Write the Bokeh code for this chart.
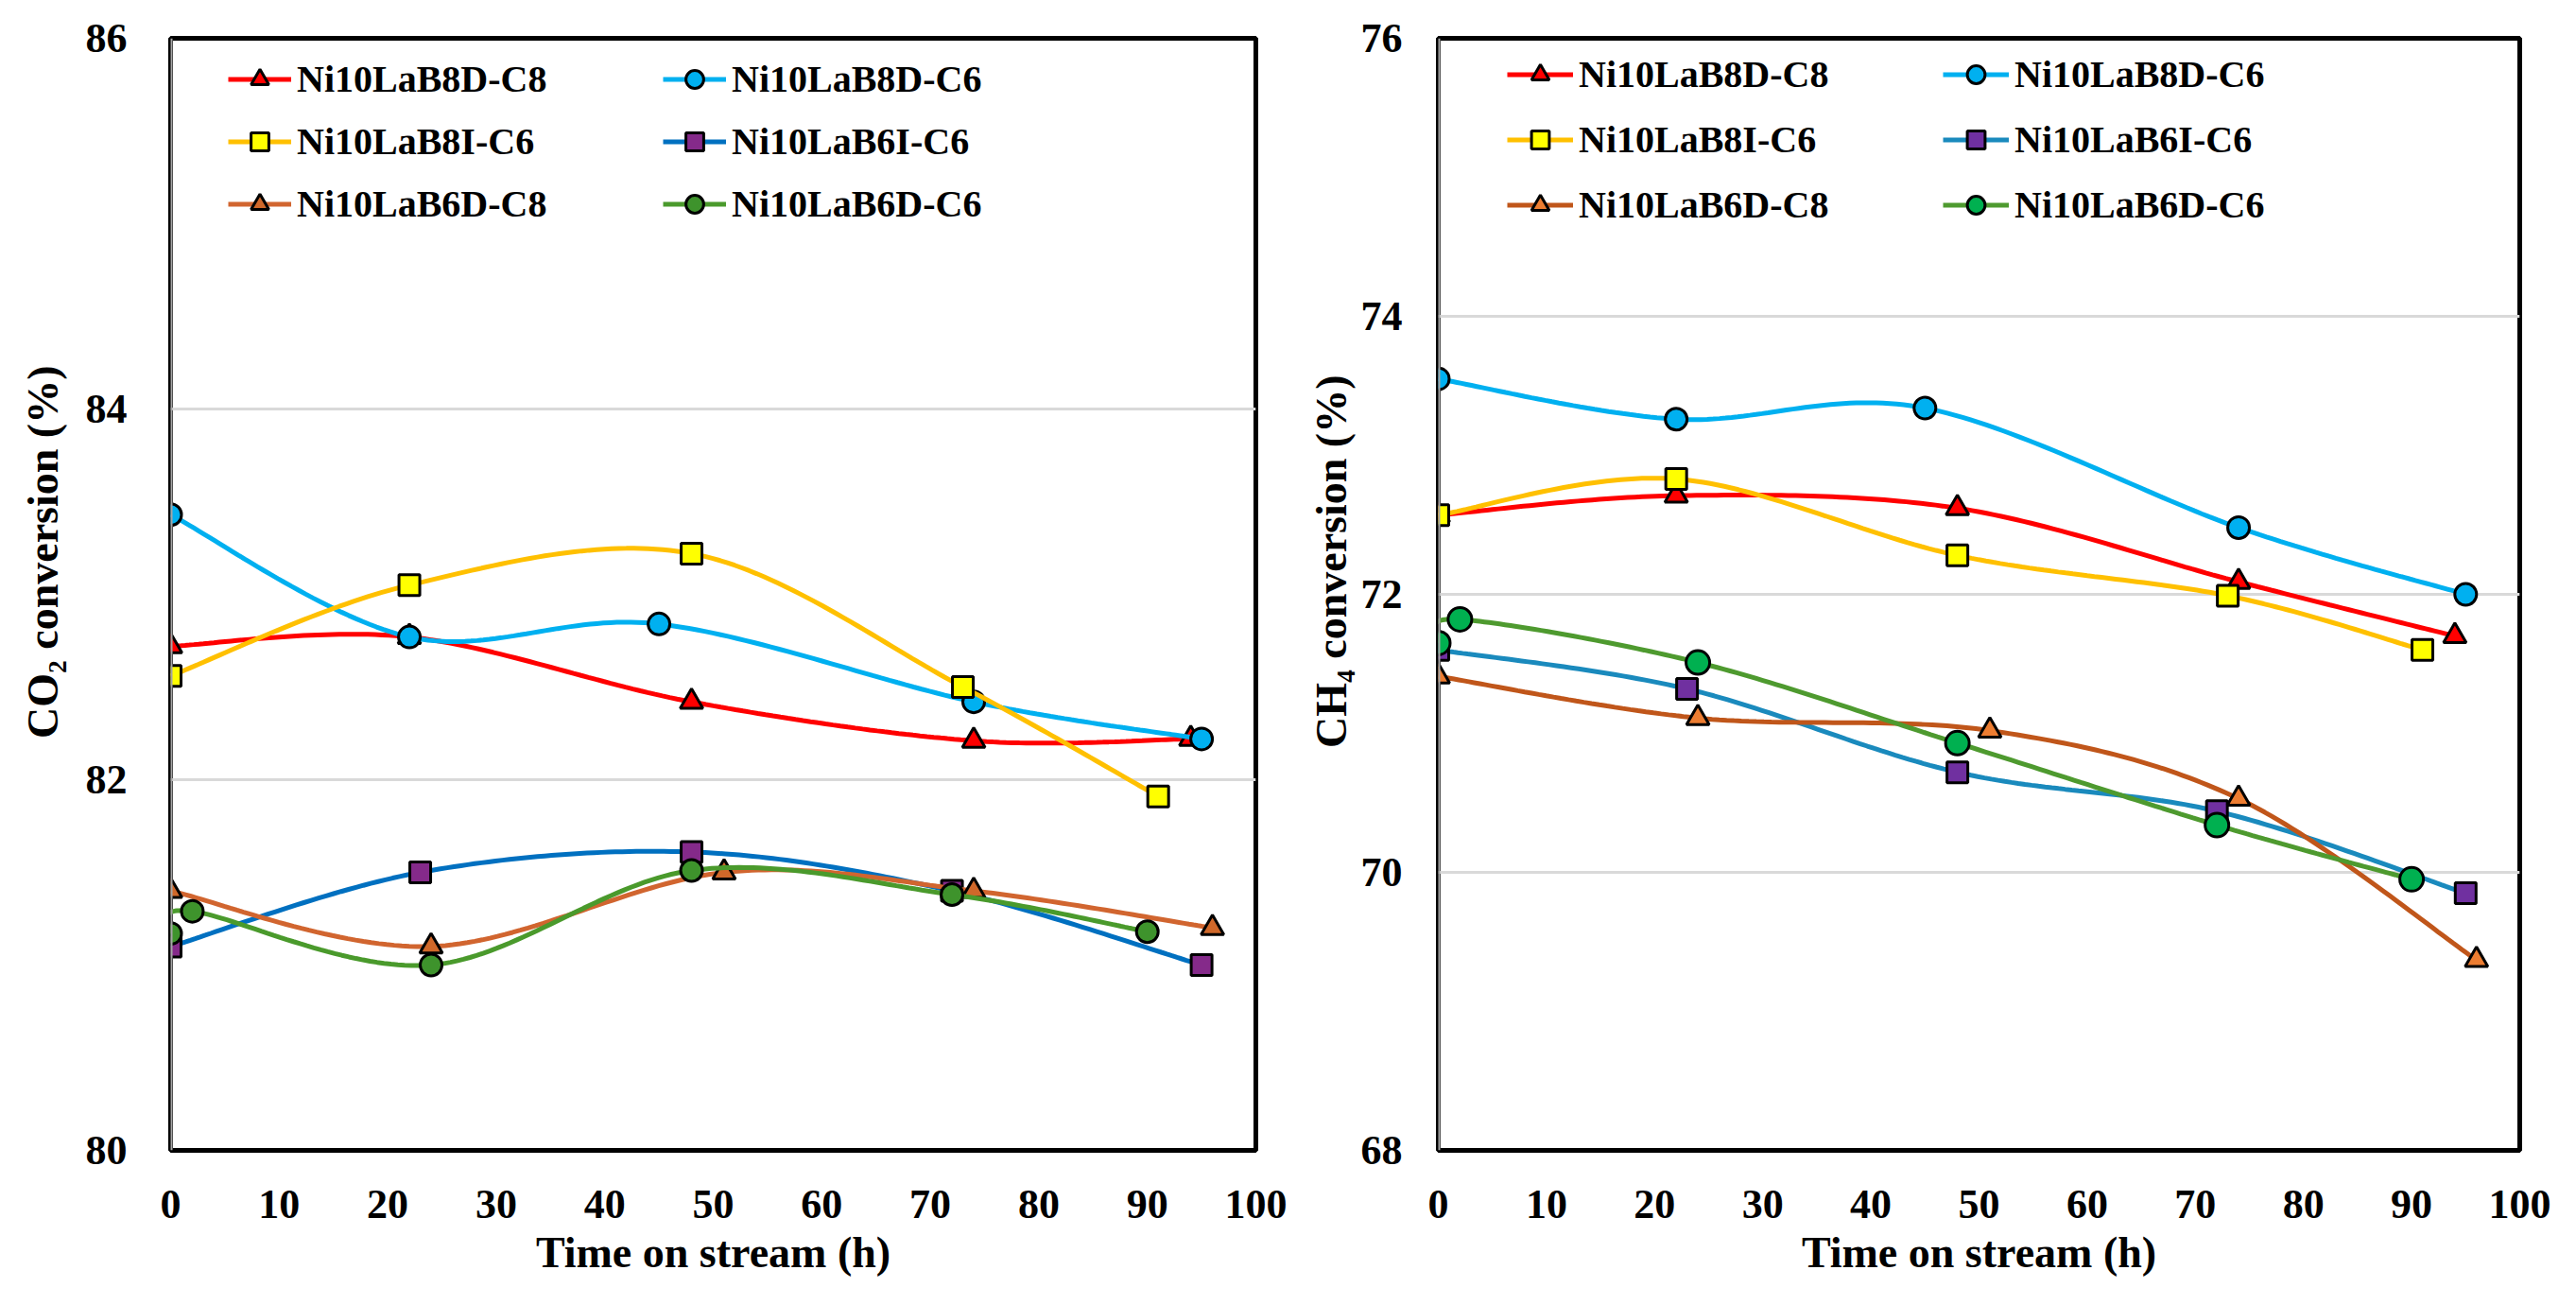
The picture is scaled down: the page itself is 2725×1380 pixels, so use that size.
import numpy as np
from bokeh.plotting import figure
from bokeh.layouts import row
from bokeh.models import Range1d, FixedTicker, Legend, LegendItem, Span, Title
from bokeh.embed import file_html
from bokeh.resources import INLINE

# ---------------- data ----------------
series_names = ["Ni10LaB8D-C8", "Ni10LaB8D-C6", "Ni10LaB8I-C6",
                "Ni10LaB6I-C6", "Ni10LaB6D-C8", "Ni10LaB6D-C6"]

# CO2 conversion (%)
co2_t_b8d_c8 = [0, 22, 48, 74, 94]
co2_b8d_c8 = [82.72, 82.77, 82.42, 82.21, 82.22]
co2_t_b8d_c6 = [0, 22, 45, 74, 95]
co2_b8d_c6 = [83.43, 82.77, 82.84, 82.42, 82.22]
co2_t_b8i_c6 = [0, 22, 48, 73, 91]
co2_b8i_c6 = [82.56, 83.05, 83.22, 82.50, 81.91]
co2_t_b6i_c6 = [0, 23, 48, 72, 95]
co2_b6i_c6 = [81.10, 81.50, 81.61, 81.40, 81.00]
co2_t_b6d_c8 = [0, 24, 51, 74, 96]
co2_b6d_c8 = [81.40, 81.10, 81.50, 81.40, 81.20]
co2_t_b6d_c6 = [0, 2, 24, 48, 72, 90]
co2_b6d_c6 = [81.17, 81.29, 81.00, 81.51, 81.38, 81.18]

# CH4 conversion (%)
ch4_t_b8d_c8 = [0, 22, 48, 74, 94]
ch4_b8d_c8 = [72.57, 72.71, 72.62, 72.09, 71.70]
ch4_t_b8d_c6 = [0, 22, 45, 74, 95]
ch4_b8d_c6 = [73.55, 73.26, 73.34, 72.48, 72.00]
ch4_t_b8i_c6 = [0, 22, 48, 73, 91]
ch4_b8i_c6 = [72.57, 72.83, 72.28, 71.99, 71.60]
ch4_t_b6i_c6 = [0, 23, 48, 72, 95]
ch4_b6i_c6 = [71.60, 71.32, 70.72, 70.44, 69.85]
ch4_t_b6d_c8 = [0, 24, 51, 74, 96]
ch4_b6d_c8 = [71.41, 71.11, 71.02, 70.53, 69.37]
ch4_t_b6d_c6 = [0, 2, 24, 48, 72, 90]
ch4_b6d_c6 = [71.65, 71.82, 71.51, 70.93, 70.34, 69.95]

x_ticks = [0, 10, 20, 30, 40, 50, 60, 70, 80, 90, 100]
co2_ticks = [80, 82, 84, 86]
ch4_ticks = [68, 70, 72, 74, 76]

FONT = "Liberation Serif"
ITEM_H = 47


def smooth(xs, ys, n=40):
    """Excel-like smoothed line (Catmull-Rom / cubic Bezier) through the points."""
    P = np.column_stack([np.asarray(xs, float), np.asarray(ys, float)])
    m = len(P)
    out = [P[0]]
    for i in range(m - 1):
        p0 = P[i - 1] if i > 0 else P[i]
        p1 = P[i]
        p2 = P[i + 1]
        p3 = P[i + 2] if i + 2 < m else P[i + 1]
        c1 = p1 + (p2 - p0) / 6.0
        c2 = p2 - (p3 - p1) / 6.0
        t = np.linspace(0, 1, n)[1:, None]
        b = ((1 - t) ** 3) * p1 + 3 * ((1 - t) ** 2) * t * c1 + 3 * (1 - t) * t ** 2 * c2 + t ** 3 * p2
        out.extend(list(b))
    out = np.array(out)
    return out[:, 0], out[:, 1]


def make_plot(data, styles, yr, yticks, ylabel, W, H, bl, br, bt, bb,
              leg_dx, leg_dy, leg_glyph_w, leg_label_w, leg_spacing,
              ytitle_standoff, ytitle_offset, ytick_standoff):
    p = figure(width=W, height=H, output_backend="svg", toolbar_location=None,
               x_range=Range1d(0, 100), y_range=Range1d(*yr),
               min_border_left=bl, min_border_right=br, min_border_top=bt,
               min_border_bottom=bb)
    p.background_fill_color = "white"
    p.border_fill_color = "white"
    p.outline_line_color = "black"
    p.outline_line_width = 5

    p.xgrid.visible = False
    p.ygrid.grid_line_color = "#D9D9D9"
    p.ygrid.grid_line_width = 3

    for ax in (p.xaxis[0], p.yaxis[0]):
        ax.major_tick_line_color = None
        ax.minor_tick_line_color = None
        ax.axis_line_color = None
        ax.major_label_text_font = FONT
        ax.major_label_text_font_style = "bold"
        ax.major_label_text_font_size = "44px"
        ax.major_label_text_color = "black"
        ax.axis_label_text_font = FONT
        ax.axis_label_text_font_style = "bold"
        ax.axis_label_text_font_size = "46px"
        ax.axis_label_text_color = "black"

    p.xaxis.ticker = FixedTicker(ticks=x_ticks)
    p.yaxis.ticker = FixedTicker(ticks=yticks)
    p.xaxis.axis_label = "Time on stream (h)"
    p.xaxis.major_label_standoff = 36
    p.yaxis.major_label_standoff = ytick_standoff
    p.xaxis.axis_label_standoff = 8

    # y-axis title (placed a little above the frame centre, as in the reference)
    p.add_layout(Title(text=ylabel, align="right", offset=ytitle_offset,
                       standoff=ytitle_standoff, text_font=FONT,
                       text_font_style="bold", text_font_size="46px",
                       text_color="black"), "left")

    # gray left spine
    p.add_layout(Span(location=0, dimension="height", line_color="#A6A6A6",
                      line_width=4, level="overlay"))

    items = []
    for (name, (xs, ys)), (lc, mc, mk, ms) in zip(zip(series_names, data), styles):
        sx, sy = smooth(xs, ys)
        lr = p.line(sx, sy, line_color=lc, line_width=5)
        sr = p.scatter(xs, ys, marker=mk, size=ms, fill_color=mc,
                       line_color="black", line_width=3)
        items.append(LegendItem(label=name, renderers=[lr, sr]))

    # legend fills column by column: reorder so that rows read like the reference
    order = [0, 2, 4, 1, 3, 5]
    items = [items[i] for i in order]

    frame_h = H - bt - bb
    leg_h = 3 * ITEM_H + 2 * leg_spacing
    leg = Legend(items=items, ncols=2, location=(leg_dx, frame_h - leg_dy - leg_h),
                 padding=0, margin=0, border_line_color=None,
                 background_fill_alpha=0,
                 glyph_width=leg_glyph_w, glyph_height=ITEM_H, label_height=ITEM_H,
                 label_width=leg_label_w, label_standoff=6, spacing=leg_spacing,
                 label_text_font=FONT, label_text_font_style="bold",
                 label_text_font_size="40px", label_text_color="black")
    p.add_layout(leg, "center")
    return p


styles_left = [
    ("#FF0000", "#FF0000", "triangle", 24),
    ("#00B0F0", "#00B0F0", "circle", 23),
    ("#FFC000", "#FFFF00", "square", 22),
    ("#0070C0", "#852A8A", "square", 22),
    ("#D1652F", "#D0682A", "triangle", 24),
    ("#4A9A2C", "#3E932C", "circle", 23),
]
styles_right = [
    ("#FF0000", "#FF0000", "triangle", 24),
    ("#00B0F0", "#00B0F0", "circle", 23),
    ("#FFC000", "#FFFF00", "square", 22),
    ("#1A8ABD", "#7030A0", "square", 22),
    ("#C0561A", "#ED7D31", "triangle", 24),
    ("#4E9A2F", "#00B050", "circle", 25),
]

co2_data = [(co2_t_b8d_c8, co2_b8d_c8), (co2_t_b8d_c6, co2_b8d_c6),
            (co2_t_b8i_c6, co2_b8i_c6), (co2_t_b6i_c6, co2_b6i_c6),
            (co2_t_b6d_c8, co2_b6d_c8), (co2_t_b6d_c6, co2_b6d_c6)]
ch4_data = [(ch4_t_b8d_c8, ch4_b8d_c8), (ch4_t_b8d_c6, ch4_b8d_c6),
            (ch4_t_b8i_c6, ch4_b8i_c6), (ch4_t_b6i_c6, ch4_b6i_c6),
            (ch4_t_b6d_c8, ch4_b6d_c8), (ch4_t_b6d_c6, ch4_b6d_c6)]

p1 = make_plot(co2_data, styles_left, (80, 86), co2_ticks, "CO\u2082 conversion (%)",
               W=1368, H=1364, bl=175, br=40, bt=40, bb=148,
               leg_dx=61, leg_dy=20, leg_glyph_w=67, leg_label_w=368,
               leg_spacing=19, ytitle_standoff=34, ytitle_offset=346,
               ytick_standoff=40)
p2 = make_plot(ch4_data, styles_right, (68, 76), ch4_ticks, "CH\u2084 conversion (%)",
               W=1341, H=1364, bl=153, br=44, bt=32, bb=148,
               leg_dx=73, leg_dy=23, leg_glyph_w=70, leg_label_w=363,
               leg_spacing=22, ytitle_standoff=5, ytitle_offset=356,
               ytick_standoff=32)

layout = row(p1, p2)
open("out.html", "w").write(file_html(layout, INLINE))
